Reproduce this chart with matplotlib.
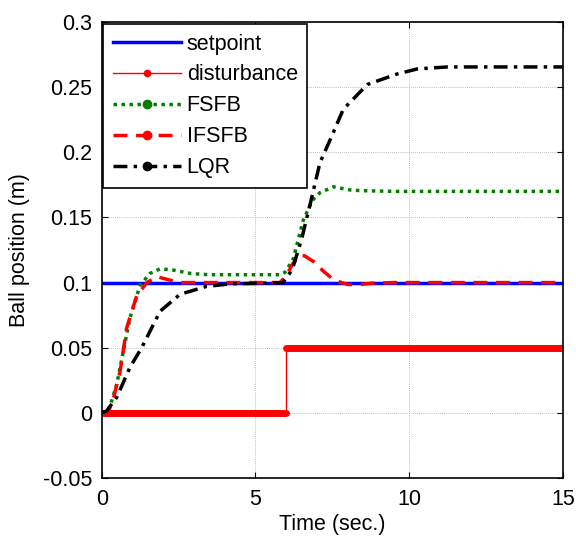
"""Ball position responses of three controllers to a setpoint and a step disturbance."""

import matplotlib

matplotlib.use("Agg")
import matplotlib.pyplot as plt  # noqa: E402
from matplotlib.lines import Line2D  # noqa: E402

plt.rcParams["font.family"] = ["Liberation Sans", "DejaVu Sans"]

# values
setpoint_t = [0, 15]
setpoint_y = [0.1, 0.1]

dist_t = [0, 6, 6, 15]
dist_y = [0.0, 0.0, 0.05, 0.05]

fsfb_t = [0, 0.15, 0.27, 0.49, 0.7, 0.92, 1.25, 1.57, 1.9, 2.3, 2.88, 3.5, 5.8, 5.97,
          6.23, 6.56, 6.85, 7.1, 7.54, 8.1, 8.5, 9.5, 15]
fsfb_y = [0, 0.0, 0.005, 0.022, 0.047, 0.073, 0.098, 0.107, 0.1105, 0.1097, 0.107, 0.106,
          0.106, 0.108, 0.118, 0.148, 0.163, 0.169, 0.1735, 0.171, 0.1705, 0.170, 0.170]

ifsfb_t = [0, 0.2, 0.37, 0.6, 0.81, 1.14, 1.47, 1.79, 2.2, 2.55, 5.8, 6.03, 6.2, 6.45,
           6.6, 6.9, 7.2, 7.55, 8.0, 8.4, 8.8, 9.5, 15]
ifsfb_y = [0, 0.0, 0.01, 0.032, 0.065, 0.09, 0.1, 0.1045, 0.102, 0.1, 0.1, 0.106, 0.114,
           0.121, 0.1205, 0.116, 0.109, 0.102, 0.0985, 0.0985, 0.0995, 0.1, 0.1]

lqr_t = [0, 0.16, 0.49, 0.92, 1.3, 1.9, 2.55, 3.4, 4.18, 5.25, 5.9, 6.2, 6.5, 6.8, 7.1,
         7.44, 7.86, 8.64, 9.6, 10.27, 11.25, 15]
lqr_y = [0, 0.0015, 0.012, 0.035, 0.05, 0.078, 0.091, 0.097, 0.099, 0.0995, 0.1, 0.11,
         0.133, 0.162, 0.192, 0.21, 0.233, 0.252, 0.26, 0.264, 0.2655, 0.2655]

x_ticks = [0, 5, 10, 15]
y_ticks = [-0.05, 0, 0.05, 0.1, 0.15, 0.2, 0.25, 0.3]
y_labels = ["-0.05", "0", "0.05", "0.1", "0.15", "0.2", "0.25", "0.3"]

green = "#008000"
fsize = 15.5

fig = plt.figure(figsize=(5.76, 5.39), dpi=100)
ax = fig.add_axes([0.1766, 0.1132, 0.8004, 0.8460])

ax.plot(setpoint_t, setpoint_y, color="#0000ff", linewidth=2.5)
ax.plot(dist_t, dist_y, color="#ff0000", linewidth=1)
# the dense markers of the disturbance trace read as a thick band on its flat parts
ax.plot(dist_t[:2], dist_y[:2], color="#ff0000", linewidth=5, solid_capstyle="round")
ax.plot(dist_t[2:], dist_y[2:], color="#ff0000", linewidth=5, solid_capstyle="round")
ax.plot(fsfb_t, fsfb_y, color=green, linewidth=2.5, linestyle=(0, (1, 1.3)))
ax.plot(ifsfb_t, ifsfb_y, color="#ff0000", linewidth=2.5, linestyle=(0, (4, 2.5)))
ax.plot(lqr_t, lqr_y, color="black", linewidth=2.5, linestyle=(0, (4, 1.8, 1, 1.8)))

ax.set_xlim(0, 15)
ax.set_ylim(-0.05, 0.3)
ax.set_xticks(x_ticks)
ax.set_yticks(y_ticks)
ax.set_yticklabels(y_labels)
ax.tick_params(direction="in", top=True, right=True, labelsize=fsize, length=4)
ax.tick_params(axis="x", pad=8)
ax.tick_params(axis="y", pad=7)
ax.grid(True, color="#a8a8a8", linestyle=(0, (1, 1.5)), linewidth=0.6)
for spine in ax.spines.values():
    spine.set_linewidth(1.2)
ax.set_xlabel("Time (sec.)", fontsize=fsize, labelpad=3)
ax.set_ylabel("Ball position (m)", fontsize=fsize, labelpad=9)

handles = [
    Line2D([], [], color="#0000ff", linewidth=2.5),
    Line2D([], [], color="#ff0000", linewidth=1, marker=".", markersize=9),
    Line2D([], [], color=green, linewidth=2.5, linestyle=(0, (1, 1.3)), marker=".",
           markersize=12),
    Line2D([], [], color="#ff0000", linewidth=2.5, linestyle=(0, (4, 2.5)), marker=".",
           markersize=12),
    Line2D([], [], color="black", linewidth=2.5, linestyle=(0, (4, 1.8, 1, 1.8)), marker=".",
           markersize=12),
]
labels = ["setpoint", "disturbance", "FSFB", "IFSFB", "LQR"]
legend = ax.legend(handles, labels, loc="upper left", bbox_to_anchor=(0.003, 0.996),
                   borderaxespad=0, fontsize=fsize, handlelength=3.15, handletextpad=0.28,
                   labelspacing=0.46, borderpad=0.45, fancybox=False, framealpha=1,
                   edgecolor="black", numpoints=1)
legend.get_frame().set_linewidth(1.2)
legend._legend_box.align = "left"

fig.savefig("out.png", dpi=100)
